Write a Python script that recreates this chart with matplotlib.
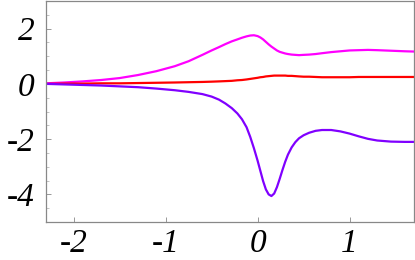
import matplotlib
matplotlib.use("Agg")
import matplotlib.pyplot as plt
from matplotlib.ticker import MultipleLocator

x = [-2.3, -2.1, -1.9, -1.7, -1.5, -1.3, -1.1, -0.9, -0.75, -0.6,
     -0.5, -0.42, -0.35, -0.28, -0.22, -0.17, -0.12, -0.08, -0.04, 0.0,
     0.03, 0.06, 0.09, 0.12, 0.15, 0.18, 0.21, 0.24, 0.27, 0.30,
     0.33, 0.37, 0.41, 0.45, 0.5, 0.56, 0.63, 0.7, 0.8, 0.9,
     1.0, 1.1, 1.2, 1.3, 1.45, 1.6, 1.7]

magenta = [0.02, 0.05, 0.09, 0.14, 0.21, 0.32, 0.46, 0.64, 0.82, 1.05,
           1.21, 1.33, 1.44, 1.54, 1.61, 1.67, 1.72, 1.75, 1.76, 1.73,
           1.68, 1.61, 1.52, 1.43, 1.35, 1.28, 1.21, 1.16, 1.13, 1.10,
           1.08, 1.06, 1.05, 1.04, 1.05, 1.06, 1.08, 1.11, 1.15, 1.18,
           1.21, 1.22, 1.23, 1.22, 1.20, 1.18, 1.17]

red = [0.0, 0.01, 0.01, 0.02, 0.02, 0.03, 0.04, 0.05, 0.06, 0.07,
       0.08, 0.09, 0.10, 0.11, 0.13, 0.14, 0.16, 0.18, 0.20, 0.22,
       0.24, 0.25, 0.27, 0.28, 0.29, 0.30, 0.30, 0.30, 0.30, 0.30,
       0.29, 0.29, 0.28, 0.27, 0.26, 0.26, 0.25, 0.24, 0.24, 0.24,
       0.24, 0.25, 0.25, 0.25, 0.25, 0.25, 0.25]

purple = [0.0, -0.02, -0.04, -0.06, -0.09, -0.12, -0.17, -0.23, -0.29, -0.37,
          -0.46, -0.57, -0.71, -0.88, -1.07, -1.28, -1.57, -1.92, -2.33, -2.78,
          -3.15, -3.52, -3.82, -4.00, -4.06, -3.97, -3.74, -3.44, -3.12, -2.82,
          -2.56, -2.30, -2.11, -1.97, -1.86, -1.77, -1.70, -1.67, -1.67, -1.72,
          -1.80, -1.90, -1.99, -2.05, -2.09, -2.10, -2.10]

xticks = [-2, -1, 0, 1]
xticklabels = ["-2", "-1", "0", "1"]
yticks = [-4, -2, 0, 2]
yticklabels = ["-4", "-2", "0", "2"]

fig = plt.figure(figsize=(4.15, 2.6), dpi=100)
ax = fig.add_axes([46/415, 1 - 222/260, 368/415, 221/260])

for ys, col in [(magenta, "#FF00FF"), (red, "#FF0000"), (purple, "#8000FF")]:
    ax.plot(x, ys, color=col, lw=1.6, solid_joinstyle="round", solid_capstyle="round")

ax.set_xlim(-2.3, 1.7)
ax.set_ylim(-5, 3)

for s in ax.spines.values():
    s.set_color("#888888")
    s.set_linewidth(0.9)

ax.set_xticks(xticks)
ax.set_xticklabels(xticklabels)
ax.set_yticks(yticks)
ax.set_yticklabels(yticklabels)
ax.yaxis.set_minor_locator(MultipleLocator(0.5))

ax.tick_params(axis="both", which="major", direction="in", length=3.5, width=0.6,
               color="#888888", labelsize=24)
ax.tick_params(axis="both", which="minor", direction="in", length=2, width=0.5,
               color="#aaaaaa")
ax.tick_params(axis="x", which="major", pad=5)
ax.tick_params(axis="y", which="major", pad=8)

for lab in ax.get_xticklabels() + ax.get_yticklabels():
    lab.set_fontfamily("Liberation Serif")
    lab.set_fontstyle("italic")

fig.savefig("out.png", dpi=100)
